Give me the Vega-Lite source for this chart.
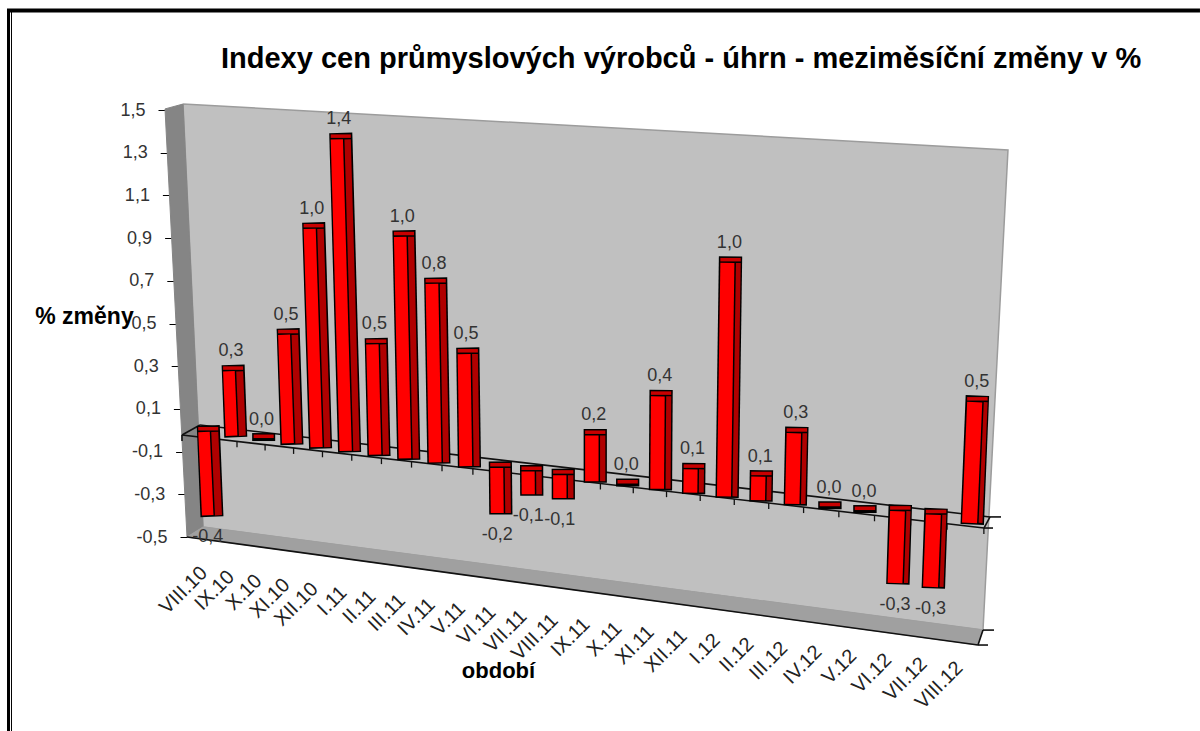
{
"$schema":"https://vega.github.io/schema/vega-lite/v6.json",
"width":800,"height":427,
"padding":{"left":187,"top":110,"right":213,"bottom":194},
"autosize":{"type":"none"},
"background":"white",
"view":{"stroke":null},
"title":{"text":"Indexy cen průmyslových výrobců - úhrn - meziměsíční změny v %","font":"Liberation Sans","fontSize":29,"fontWeight":"bold","color":"#000000","anchor":"start","frame":"group","dx":34,"offset":0,"dy":66},
"config":{"font":"Liberation Sans"},
"datasets":{
"bars":[
{"obdobi":"VIII.10","o":0,"value":-0.39},{"obdobi":"IX.10","o":1,"value":0.3},{"obdobi":"X.10","o":2,"value":0.0},{"obdobi":"XI.10","o":3,"value":0.5},{"obdobi":"XII.10","o":4,"value":1.0},{"obdobi":"I.11","o":5,"value":1.42},{"obdobi":"II.11","o":6,"value":0.5},{"obdobi":"III.11","o":7,"value":1.0},{"obdobi":"IV.11","o":8,"value":0.8},{"obdobi":"V.11","o":9,"value":0.5},{"obdobi":"VI.11","o":10,"value":-0.2},{"obdobi":"VII.11","o":11,"value":-0.1},{"obdobi":"VIII.11","o":12,"value":-0.1},{"obdobi":"IX.11","o":13,"value":0.2},{"obdobi":"X.11","o":14,"value":0.0},{"obdobi":"XI.11","o":15,"value":0.4},{"obdobi":"XII.11","o":16,"value":0.1},{"obdobi":"I.12","o":17,"value":1.0},{"obdobi":"II.12","o":18,"value":0.1},{"obdobi":"III.12","o":19,"value":0.3},{"obdobi":"IV.12","o":20,"value":0.0},{"obdobi":"V.12","o":21,"value":0.0},{"obdobi":"VI.12","o":22,"value":-0.3},{"obdobi":"VII.12","o":23,"value":-0.3},{"obdobi":"VIII.12","o":24,"value":0.5}
],
"walls":[
{"s":"back","i":0,"u":-0.766,"v":1.528},{"s":"back","i":1,"u":29.343,"v":1.313},{"s":"back","i":2,"u":28.431,"v":-0.936},{"s":"back","i":3,"u":-0.036,"v":-0.453},{"s":"back","i":4,"u":-0.766,"v":1.528},
{"s":"left","i":0,"u":-1.423,"v":1.505},{"s":"left","i":1,"u":-0.766,"v":1.528},{"s":"left","i":2,"u":-0.036,"v":-0.453},{"s":"left","i":3,"u":-0.62,"v":-0.5},{"s":"left","i":4,"u":-1.423,"v":1.505},
{"s":"floor","i":0,"u":-0.62,"v":-0.5},{"s":"floor","i":1,"u":-0.036,"v":-0.453},{"s":"floor","i":2,"u":28.431,"v":-0.936},{"s":"floor","i":3,"u":28.248,"v":-1.006},{"s":"floor","i":4,"u":-0.62,"v":-0.5}
],
"lines":[
{"u":-0.146,"v":0.0246,"u2":28.686,"v2":-0.406},
{"u":-0.803,"v":-0.0222,"u2":28.467,"v2":-0.458},
{"u":-0.803,"v":-0.0222,"u2":-0.146,"v2":0.0246},
{"u":-0.803,"v":-0.0222,"u2":-0.803,"v2":-0.0503},
{"u":28.467,"v":-0.458,"u2":28.796,"v2":-0.458},
{"u":28.686,"v":-0.406,"u2":29.088,"v2":-0.406},
{"u":28.467,"v":-0.458,"u2":28.686,"v2":-0.406},
{"u":-0.62,"v":-0.5,"u2":28.248,"v2":-1.006},
{"u":28.248,"v":-1.006,"u2":28.613,"v2":-1.006},
{"u":28.431,"v":-0.936,"u2":28.832,"v2":-0.936},
{"u":28.248,"v":-1.006,"u2":28.431,"v2":-0.936}
],
"frameTop":[{"u":-7.19,"v":1.966,"u2":36.35,"v2":1.966}],
"frameLeft":[{"u":-7.135,"v":1.97,"u2":-7.135,"v2":-1.409}],
"frameThin":[{"u":-7.026,"v":1.96,"u2":-7.026,"v2":-1.409}]
},
"layer":[
{"data":{"name":"walls"},"transform":[{"filter":"datum.s==='back'"}],
 "mark":{"type":"line","fill":"#c0c0c0","stroke":"#9c9c9c","strokeWidth":1.5},
 "encoding":{"x":{"field":"u","type":"quantitative","scale":{"domain":[-0.6204,28.577],"nice":false,"zero":false},
   "axis":{"title":"období","titleFont":"Liberation Sans","titleFontSize":22,"titleFontWeight":"bold","titleColor":"#000000","titleX":311,"titleY":123,"domain":false,"ticks":false,"labels":false,"grid":false}},
  "y":{"field":"v","type":"quantitative","scale":{"domain":[-0.5,1.5],"nice":false,"zero":false},
   "axis":{"title":"% změny","titleFont":"Liberation Sans","titleFontSize":23,"titleFontWeight":"bold","titleColor":"#000000","titleAngle":0,"titleAlign":"center","titleBaseline":"middle","titleX":-103,"titleY":206,
    "values":[-0.5,-0.3,-0.1,0.1,0.3,0.5,0.7,0.9,1.1,1.3,1.5],"labelExpr":"replace(replace(format(datum.value,'.1f'),'.',','),'−','-')","labelFont":"Liberation Sans","labelFontSize":18,"labelColor":"#333333","domain":false,"grid":false,"tickSize":6,"tickColor":"#000000","labelPadding":14,
    "encoding":{"labels":{"dx":{"value":{"signal":"(datum.value+0.5)*-11"}}},"ticks":{"x":{"value":{"signal":"(datum.value+0.5)*-11-7+0"}},"x2":{"value":{"signal":"(datum.value+0.5)*-11+0"}}}}}},
  "order":{"field":"i","type":"quantitative"}}},
{"data":{"name":"walls"},"transform":[{"filter":"datum.s==='left'"}],
 "mark":{"type":"line","fill":"#858585","stroke":"#858585","strokeWidth":1},
 "encoding":{"x":{"field":"u","type":"quantitative"},"y":{"field":"v","type":"quantitative"},"order":{"field":"i","type":"quantitative"}}},
{"data":{"name":"walls"},"transform":[{"filter":"datum.s==='floor'"}],
 "mark":{"type":"line","fill":"#a0a0a0","stroke":"#a0a0a0","strokeWidth":1},
 "encoding":{"x":{"field":"u","type":"quantitative"},"y":{"field":"v","type":"quantitative"},"order":{"field":"i","type":"quantitative"}}},
{"data":{"name":"lines"},
 "mark":{"type":"rule","color":"#111111","strokeWidth":1.6},
 "encoding":{"x":{"field":"u","type":"quantitative"},"x2":{"field":"u2"},"y":{"field":"v","type":"quantitative"},"y2":{"field":"v2"}}},
{"data":{"name":"frameTop"},"mark":{"type":"rule","color":"#000000","strokeWidth":4},
 "encoding":{"x":{"field":"u","type":"quantitative"},"x2":{"field":"u2"},"y":{"field":"v","type":"quantitative"},"y2":{"field":"v2"}}},
{"data":{"name":"frameLeft"},"mark":{"type":"rule","color":"#000000","strokeWidth":3},
 "encoding":{"x":{"field":"u","type":"quantitative"},"x2":{"field":"u2"},"y":{"field":"v","type":"quantitative"},"y2":{"field":"v2"}}},
{"data":{"name":"frameThin"},"mark":{"type":"rule","color":"#000000","strokeWidth":1},
 "encoding":{"x":{"field":"u","type":"quantitative"},"x2":{"field":"u2"},"y":{"field":"v","type":"quantitative"},"y2":{"field":"v2"}}},
{"data":{"name":"bars"},
 "transform":[
  {"calculate":"datum.o+1","as":"k"},
  {"calculate":"(182+27.1*datum.k+0.199*datum.k*datum.k-204)/27.4","as":"tx"},
  {"calculate":"-0.0222-0.000543*(27.1*datum.k+0.199*datum.k*datum.k)","as":"ty"},
  {"calculate":"datum.ty-0.0281","as":"ty2"}],
 "mark":{"type":"rule","color":"#111111","strokeWidth":1.3},
 "encoding":{"x":{"field":"tx","type":"quantitative"},"y":{"field":"ty","type":"quantitative"},"y2":{"field":"ty2"}}},
{"data":{"name":"bars"},
 "transform":[
  {"calculate":"datum.o+0.00684*datum.o*datum.o","as":"pos"},
  {"calculate":"1+0.0055*datum.o","as":"f"},
  {"calculate":"-0.008-(datum.value<0?0.01686:0.01775)*datum.o","as":"base"},
  {"calculate":"datum.base+datum.value*datum.f","as":"end"},
  {"calculate":"datum.pos-0.02434*(14.27-datum.pos)*datum.f*datum.value","as":"xEnd"},
  {"calculate":"11.5+0.15*datum.o","as":"w"},
  {"calculate":"7-0.13*datum.o","as":"sw"},
  {"calculate":"max(datum.base,datum.end)","as":"top"},
  {"calculate":"min(datum.base,datum.end)","as":"low"},
  {"calculate":"datum.value>=0?datum.xEnd:datum.pos","as":"xTop"},
  {"calculate":"datum.value>=0?datum.pos:datum.xEnd","as":"xLow"},
  {"calculate":"(datum.sw+1.5)/2/27.4","as":"half"},
  {"calculate":"(datum.w/2+datum.sw/2+1.5)/27.4","as":"ss"},
  {"calculate":"datum.xTop+datum.half","as":"sTop"},
  {"calculate":"datum.xLow+datum.half","as":"sLow"},
  {"calculate":"datum.top+6.5/213.5","as":"silTop"},
  {"calculate":"datum.low-1.5/213.5","as":"silLow"},
  {"calculate":"datum.w+datum.sw+4.5","as":"silW"},
  {"calculate":"datum.w+datum.sw+1.5","as":"capW"},
  {"calculate":"datum.top+5/213.5","as":"capTop"},
  {"calculate":"datum.top+1.5/213.5","as":"capLow"},
  {"calculate":"datum.xTop+datum.ss","as":"sideTop"},
  {"calculate":"datum.xLow+datum.ss","as":"sideLow"},
  {"calculate":"replace(replace(format(datum.value,'.1f'),'.',','),'−','-')","as":"label"},
  {"calculate":"datum.pos-0.015*datum.o","as":"lx"},
  {"calculate":"-0.5+(537-(570+3.95*datum.o))/213.5","as":"ly"}
 ],
 "layer":[
  {"mark":{"type":"rule","color":"#000000"},
   "encoding":{"x":{"field":"sTop","type":"quantitative"},"x2":{"field":"sLow"},"y":{"field":"silTop","type":"quantitative"},"y2":{"field":"silLow"},"size":{"field":"silW","type":"quantitative","scale":null,"legend":null}}},
  {"mark":{"type":"rule","color":"#b00000"},
   "encoding":{"x":{"field":"sideTop","type":"quantitative"},"x2":{"field":"sideLow"},"y":{"field":"top","type":"quantitative"},"y2":{"field":"low"},"size":{"field":"sw","type":"quantitative","scale":null,"legend":null}}},
  {"mark":{"type":"rule","color":"#c80000"},
   "encoding":{"x":{"field":"sTop","type":"quantitative"},"y":{"field":"capTop","type":"quantitative"},"y2":{"field":"capLow"},"size":{"field":"capW","type":"quantitative","scale":null,"legend":null}}},
  {"mark":{"type":"rule","color":"#ff0000"},
   "encoding":{"x":{"field":"xTop","type":"quantitative"},"x2":{"field":"xLow"},"y":{"field":"top","type":"quantitative"},"y2":{"field":"low"},"size":{"field":"w","type":"quantitative","scale":null,"legend":null}}},
  {"transform":[{"filter":"datum.value>=0"}],
   "mark":{"type":"text","font":"Liberation Sans","fontSize":18,"color":"#333333","dy":-20,"dx":2},
   "encoding":{"x":{"field":"xTop","type":"quantitative"},"y":{"field":"top","type":"quantitative"},"text":{"field":"label"}}},
  {"transform":[{"filter":"datum.value<0"}],
   "mark":{"type":"text","font":"Liberation Sans","fontSize":18,"color":"#333333","dy":22},
   "encoding":{"x":{"field":"xLow","type":"quantitative"},"y":{"field":"low","type":"quantitative"},"text":{"field":"label"}}},
  {"mark":{"type":"text","font":"Liberation Sans","fontSize":20,"color":"#222222","angle":315,"align":"right","baseline":"middle"},
   "encoding":{"x":{"field":"lx","type":"quantitative"},"y":{"field":"ly","type":"quantitative"},"text":{"field":"obdobi"}}}
 ]}
]
}
